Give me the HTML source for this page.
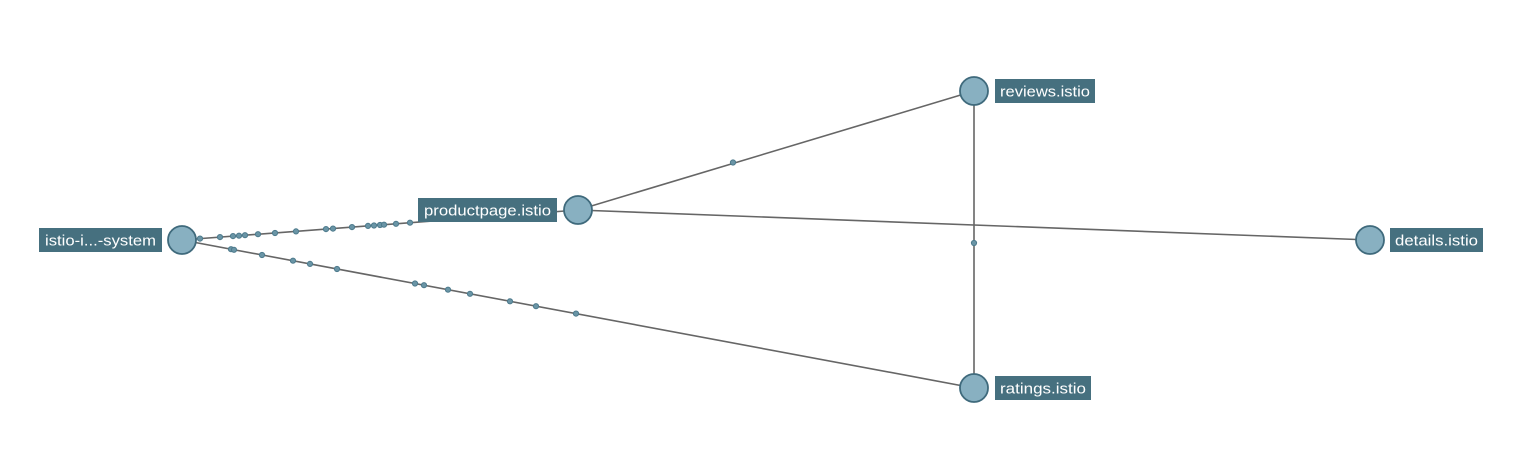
<!DOCTYPE html>
<html><head><meta charset="utf-8"><style>
html,body{margin:0;padding:0;background:#fff;width:1522px;height:464px;overflow:hidden}
text{font-family:"Liberation Sans",sans-serif;font-size:15px;fill:#fff}
</style></head><body>
<svg width="1522" height="464" viewBox="0 0 1522 464" xmlns="http://www.w3.org/2000/svg">
<g stroke="#666" stroke-width="1.6" fill="none">
<line x1="182" y1="240" x2="578" y2="210"/>
<line x1="182" y1="240" x2="974" y2="388"/>
<line x1="578" y1="210" x2="974" y2="91"/>
<line x1="578" y1="210" x2="1370" y2="240"/>
<line x1="974" y1="91" x2="974" y2="388"/>
</g>
<g fill="#6a95a6" stroke="#4d7a8c" stroke-width="1">
<circle cx="200" cy="238.6" r="2.6"/><circle cx="220" cy="237.1" r="2.6"/><circle cx="233" cy="236.1" r="2.6"/><circle cx="239" cy="235.7" r="2.6"/><circle cx="245" cy="235.2" r="2.6"/><circle cx="258" cy="234.2" r="2.6"/><circle cx="275" cy="233" r="2.6"/><circle cx="296" cy="231.4" r="2.6"/><circle cx="326" cy="229.1" r="2.6"/><circle cx="333" cy="228.6" r="2.6"/><circle cx="352" cy="227.1" r="2.6"/><circle cx="368" cy="225.9" r="2.6"/><circle cx="374" cy="225.5" r="2.6"/><circle cx="380" cy="225" r="2.6"/><circle cx="384" cy="224.7" r="2.6"/><circle cx="396" cy="223.8" r="2.6"/><circle cx="410" cy="222.7" r="2.6"/>
<circle cx="231" cy="249.2" r="2.6"/><circle cx="234" cy="249.8" r="2.6"/><circle cx="262" cy="255" r="2.6"/><circle cx="293" cy="260.7" r="2.6"/><circle cx="310" cy="263.9" r="2.6"/><circle cx="337" cy="269" r="2.6"/><circle cx="415" cy="283.5" r="2.6"/><circle cx="424" cy="285.2" r="2.6"/><circle cx="448" cy="289.7" r="2.6"/><circle cx="470" cy="293.8" r="2.6"/><circle cx="510" cy="301.3" r="2.6"/><circle cx="536" cy="306.2" r="2.6"/><circle cx="576" cy="313.6" r="2.6"/>
<circle cx="733" cy="162.5" r="2.6"/><circle cx="974" cy="243" r="2.6"/>
</g>
<g fill="#88b0c1" stroke="#3f6a7c" stroke-width="1.8">
<circle cx="182" cy="240" r="14"/><circle cx="578" cy="210" r="14"/><circle cx="974" cy="91" r="14"/><circle cx="974" cy="388" r="14"/><circle cx="1370" cy="240" r="14"/>
</g>
<g fill="#46707f">
<rect x="39" y="228" width="123" height="24"/>
<rect x="418" y="198" width="139" height="24"/>
<rect x="995" y="79" width="100" height="24"/>
<rect x="995" y="376" width="96" height="24"/>
<rect x="1390" y="228" width="93" height="24"/>
</g>
<text x="100.5" y="245.5" text-anchor="middle" textLength="111" lengthAdjust="spacingAndGlyphs">istio-i...-system</text>
<text x="487.5" y="215.5" text-anchor="middle" textLength="127" lengthAdjust="spacingAndGlyphs">productpage.istio</text>
<text x="1045" y="96.5" text-anchor="middle" textLength="90" lengthAdjust="spacingAndGlyphs">reviews.istio</text>
<text x="1043" y="393.5" text-anchor="middle" textLength="86" lengthAdjust="spacingAndGlyphs">ratings.istio</text>
<text x="1436.5" y="245.5" text-anchor="middle" textLength="83" lengthAdjust="spacingAndGlyphs">details.istio</text>
</svg>
</body></html>
